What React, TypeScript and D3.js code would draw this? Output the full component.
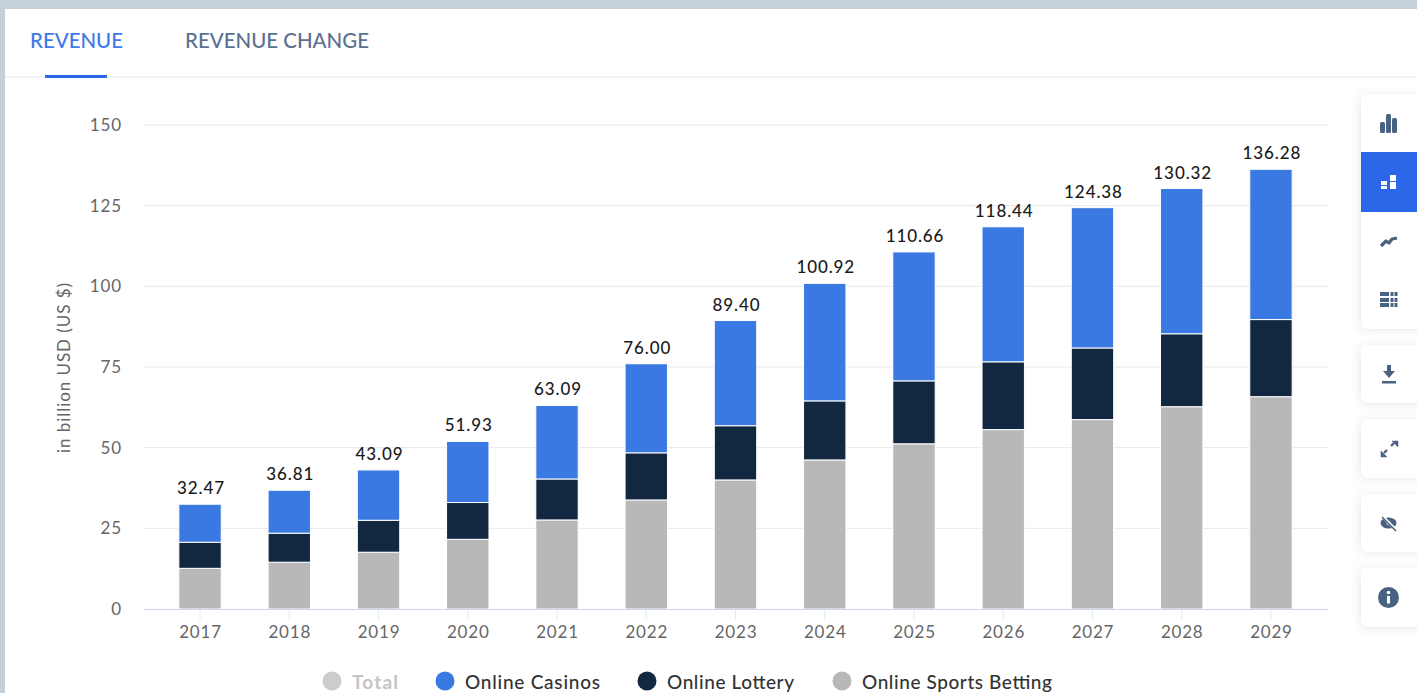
import React from "react";
import * as d3 from "d3";

const years = ["2017","2018","2019","2020","2021","2022","2023","2024","2025","2026","2027","2028","2029"];
const sportsBetting = [12.6,14.5,17.6,21.6,27.6,33.8,40,46.2,51.2,55.6,58.7,62.7,65.8];
const lottery = [8.1,9,9.9,11.4,12.7,14.6,16.8,18.3,19.5,21,22.2,22.6,23.9];
const casinos = [11.77,13.31,15.59,18.93,22.79,27.6,32.6,36.42,39.96,41.84,43.48,45.02,46.58];
const totals = ["32.47","36.81","43.09","51.93","63.09","76.00","89.40","100.92","110.66","118.44","124.38","130.32","136.28"];
const yTicks = [0,25,50,75,100,125,150];
const seriesNames = ["Online Sports Betting","Online Lottery","Online Casinos"];
const seriesColors = ["#b8b8b8","#122740","#3a78e2"];
const legendItems = [
  { label: "Total", color: "#cccccc", text: "#c4c4c4", cx: 332, tx: 352, len: 46 },
  { label: "Online Casinos", color: "#3a78e2", text: "#333333", cx: 445, tx: 465, len: 135 },
  { label: "Online Lottery", color: "#122740", text: "#333333", cx: 647, tx: 667, len: 127 },
  { label: "Online Sports Betting", color: "#b8b8b8", text: "#333333", cx: 842, tx: 862, len: 190 },
];
const FONT = "Lato, 'Open Sans', sans-serif";
const ICON = "#4a6282";

function Panel({ y, h }: { y: number; h: number }) {
  return <rect x={1361} y={y} width={70} height={h} rx={7} fill="#fff" filter="url(#panelShadow)" />;
}

export default function App() {
  const x = d3.scaleBand<string>().domain(years).range([143.5, 1327.5]).paddingInner(0.525).paddingOuter(0.396);
  const y = d3.scaleLinear().domain([0, 150]).range([609, 125]);
  const rows = years.map((year, i) => ({ year, s0: sportsBetting[i], s1: lottery[i], s2: casinos[i] }));
  const stack = d3.stack<any>().keys(["s0", "s1", "s2"]);
  const layers = stack(rows);

  return (
    <div style={{ position: "fixed", left: 0, top: 0 }}>
      <svg width={1417} height={693} style={{ display: "block", fontFamily: FONT }}>
        <defs>
          <filter id="panelShadow" x="-40%" y="-20%" width="180%" height="140%">
            <feDropShadow dx={-1} dy={1} stdDeviation={5} floodColor="#5b7290" floodOpacity={0.16} />
          </filter>
        </defs>

        {/* Page frame and white card */}
        <rect width={1417} height={693} fill="#c5d0d8" />
        <rect x={5} y={9} width={1412} height={684} fill="#ffffff" />

        {/* Tabs */}
        <text x={30} y={48} fontSize={21} fontWeight={500} fill="#3f78ea" textLength={93} lengthAdjust="spacingAndGlyphs">REVENUE</text>
        <text x={185} y={48} fontSize={21} fontWeight={500} fill="#5b7190" textLength={184} lengthAdjust="spacingAndGlyphs">REVENUE CHANGE</text>
        <line x1={5} x2={1417} y1={77} y2={77} stroke="#f1f4f8" strokeWidth={2} />
        <rect x={45} y={75} width={62} height={3} fill="#2b67e8" />

        {/* Grid and value axis */}
        {yTicks.filter((t) => t > 0).map((t) => (
          <line key={t} x1={144} x2={1328} y1={y(t)} y2={y(t)} stroke="#e8e8e8" strokeWidth={1} />
        ))}
        {yTicks.map((t) => (
          <text key={t} x={122} y={y(t) + 6} textAnchor="end" fontSize={17} fill="#666" letterSpacing={0.9}>{t}</text>
        ))}
        <text transform="translate(70,368) rotate(-90)" textAnchor="middle" fontSize={17} fill="#666" textLength={170} lengthAdjust="spacing">in billion USD (US $)</text>

        {/* Stacked bars */}
        {layers.map((layer, li) => (
          <g key={seriesNames[li]} fill={seriesColors[li]}>
            {layer.map((d, i) => (
              <rect
                key={years[i]}
                x={x(years[i])}
                y={y(d[1])}
                width={x.bandwidth()}
                height={y(d[0]) - y(d[1])}
                stroke="#ffffff"
                strokeWidth={1}
              />
            ))}
          </g>
        ))}

        {/* Totals above each stack */}
        {rows.map((r, i) => (
          <text key={r.year} x={x(r.year)! + x.bandwidth() / 2 + 1} y={y(+totals[i]) - 10} textAnchor="middle" fontSize={17} fontWeight={500} fill="#1a1a1a" letterSpacing={0.9}>
            {totals[i]}
          </text>
        ))}

        {/* Category axis */}
        <line x1={144} x2={1328} y1={609.5} y2={609.5} stroke="#ccd6eb" strokeWidth={1} />
        {years.map((yr) => {
          const cx = x(yr)! + x.bandwidth() / 2;
          return (
            <g key={yr}>
              <line x1={cx} x2={cx} y1={610} y2={620} stroke="#e4e9f5" strokeWidth={1} />
              <text x={cx + 0.5} y={638} textAnchor="middle" fontSize={17} fill="#666" letterSpacing={0.8}>{yr}</text>
            </g>
          );
        })}

        {/* Legend */}
        {legendItems.map((l) => (
          <g key={l.label}>
            <circle cx={l.cx} cy={681} r={9.5} fill={l.color} />
            <text x={l.tx} y={689} fontSize={19} fontWeight={l.label === "Total" ? 700 : 500} fill={l.text} textLength={l.len} lengthAdjust="spacing">{l.label}</text>
          </g>
        ))}

        {/* Tool panels */}
        <Panel y={94} h={235} />
        <Panel y={345} h={58} />
        <Panel y={419} h={59} />
        <Panel y={494} h={58} />
        <Panel y={568} h={59} />
        <rect x={1361} y={152} width={56} height={60} fill="#2b67e8" />

        {/* Bar chart icon */}
        <g fill={ICON}>
          <rect x={1380} y={122} width={5} height={11} rx={1.5} />
          <rect x={1386} y={114} width={5} height={19} rx={1.5} />
          <rect x={1392} y={118} width={5} height={15} rx={1.5} />
        </g>
        {/* Stacked chart icon */}
        <g fill="#fff">
          <rect x={1381} y={181} width={6} height={4} />
          <rect x={1381} y={186} width={6} height={3} />
          <rect x={1390} y={175} width={6} height={6} />
          <rect x={1390} y={182} width={6} height={7} />
        </g>
        {/* Trend icon */}
        <path d="M1381 246 L1386 241 L1389 243 L1392 239 L1397 238" fill="none" stroke={ICON} strokeWidth={3.2} strokeLinejoin="round" />
        {/* Table icon */}
        <g fill={ICON}>
          <rect x={1380} y={292} width={9} height={4} />
          <rect x={1380} y={298} width={9} height={4} />
          <rect x={1380} y={303} width={9} height={4} />
          {[1390.5, 1394.5].map((cx) => [292, 298, 303].map((cy) => (
            <rect key={`${cx}-${cy}`} x={cx} y={cy} width={3} height={4} />
          )))}
        </g>
        {/* Download icon */}
        <g fill={ICON}>
          <path d="M1387 365 h4 v6 h4 l-6 7 l-6 -7 h4 z" />
          <rect x={1382} y={381} width={14} height={2.5} />
        </g>
        {/* Fullscreen icon */}
        <g fill={ICON} stroke={ICON}>
          <path d="M1391 446 L1394 443 M1384 453 L1387 450" strokeWidth={2.4} fill="none" />
          <path d="M1392 441 h6 v6 z" strokeWidth={0.5} />
          <path d="M1381 451 v6 h6 z" strokeWidth={0.5} />
        </g>
        {/* Hidden icon */}
        <g>
          <ellipse cx={1388.5} cy={523} rx={8} ry={5.5} fill={ICON} />
          <circle cx={1388.5} cy={523} r={2} fill="#fff" />
          <line x1={1382} x2={1396} y1={516} y2={530} stroke="#fff" strokeWidth={3} />
          <line x1={1382} x2={1396} y1={517} y2={531} stroke={ICON} strokeWidth={1.5} />
        </g>
        {/* Info icon */}
        <circle cx={1388.5} cy={597.5} r={10.5} fill={ICON} />
        <rect x={1387} y={596} width={3} height={7.5} fill="#fff" />
        <circle cx={1388.5} cy={592.5} r={1.8} fill="#fff" />
      </svg>
    </div>
  );
}
